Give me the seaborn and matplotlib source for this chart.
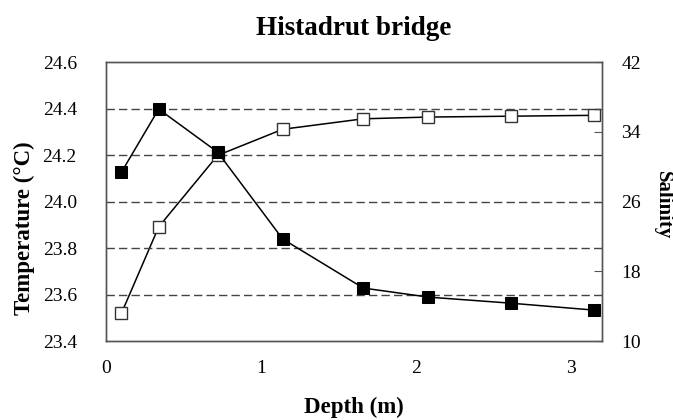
import numpy as np
import pandas as pd
import matplotlib
matplotlib.use("Agg")
import matplotlib.pyplot as plt
import seaborn as sns

# data
depth = [0.10, 0.34, 0.72, 1.14, 1.66, 2.08, 2.61, 3.15]
temperature = [24.127, 24.398, 24.213, 23.839, 23.628, 23.589, 23.563, 23.533]
salinity = [13.2, 23.1, 31.3, 34.3, 35.5, 35.7, 35.8, 35.9]

temp_ticks = [23.4, 23.6, 23.8, 24.0, 24.2, 24.4, 24.6]
sal_ticks = [10, 18, 26, 34, 42]
depth_ticks = [0, 1, 2, 3]

df = pd.DataFrame({"depth": depth, "temperature": temperature, "salinity": salinity})

sns.set_style("white", {"text.color": "black", "axes.labelcolor": "black",
                        "xtick.color": "black", "ytick.color": "black"})
plt.rcParams["font.family"] = ["Liberation Serif", "DejaVu Serif"]

fig = plt.figure(figsize=(6.73, 4.2), dpi=100)
ax = fig.add_axes([0.1575, 0.188, 0.737, 0.664])
ax2 = ax.twinx()

spine_col = "#555555"

# salinity - open squares (right axis)
sns.lineplot(data=df, x="depth", y="salinity", ax=ax2, color="black", lw=1.1,
             marker="s", markersize=8, markerfacecolor="white",
             markeredgecolor="#333333", markeredgewidth=1.0)

# temperature - filled squares (left axis), drawn on top
sns.lineplot(data=df, x="depth", y="temperature", ax=ax, color="black", lw=1.1,
             marker="s", markersize=8, markerfacecolor="black",
             markeredgecolor="black")
ax.set_zorder(ax2.get_zorder() + 1)
ax.patch.set_visible(False)

ax.set_xlim(0, 3.2)
ax.set_ylim(23.4, 24.6)
ax2.set_ylim(10, 42)
ax.set_xticks(depth_ticks)
ax.set_yticks(temp_ticks)
ax.set_yticklabels(["%.1f" % t for t in temp_ticks])
ax2.set_yticks(sal_ticks)

for t in temp_ticks[1:-1]:
    ax.axhline(t, color="#444444", lw=1.0, ls=(0, (6, 3)), zorder=0)

for a in (ax, ax2):
    for s in a.spines.values():
        s.set_color(spine_col)
        s.set_linewidth(1.0)

ax.tick_params(axis="x", direction="in", length=6, color=spine_col, labelsize=14, pad=14)
ax.tick_params(axis="y", length=0, labelsize=14, pad=21)
ax2.tick_params(axis="y", direction="in", length=6, color=spine_col, labelsize=14, pad=14)

ax.set_xlabel("Depth (m)", fontsize=16.5, fontweight="bold", va="center")
ax.xaxis.set_label_coords(0.5, -0.237)
ax.set_ylabel("Temperature (°C)", fontsize=16.5, fontweight="bold", va="center")
ax.yaxis.set_label_coords(-0.165, 0.405)
ax2.set_ylabel("Salinity", fontsize=15, fontweight="bold", rotation=270, va="center")
ax2.yaxis.set_label_coords(1.122, 0.487)
ax.set_title("Histadrut bridge", fontsize=19.5, fontweight="bold", y=1.119, va="center", pad=0)

fig.savefig("out.png", dpi=100)
